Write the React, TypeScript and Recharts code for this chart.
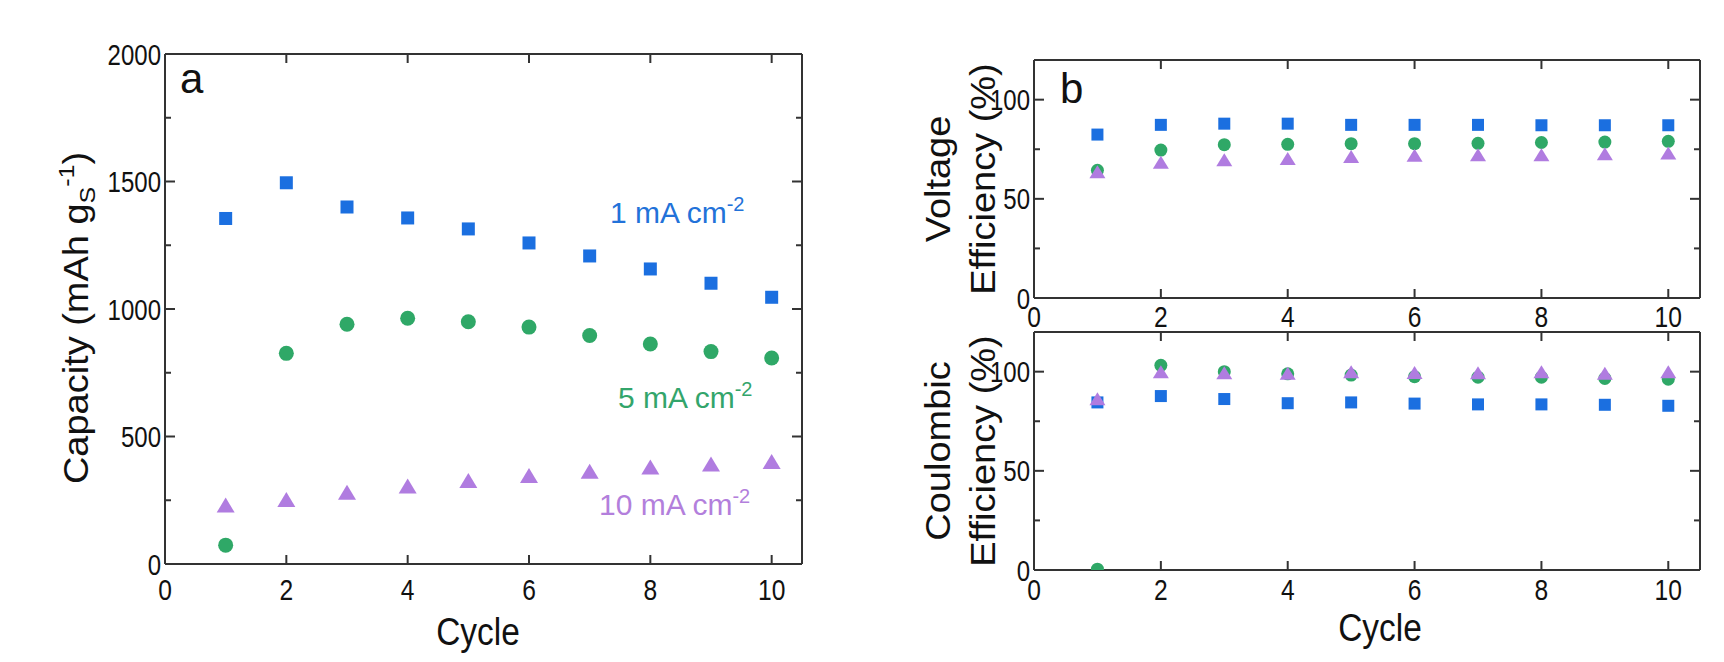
import React from "react";
import { ScatterChart, Scatter, XAxis, YAxis, ReferenceLine } from "recharts";

// cycle numbers
const cycles = [1, 2, 3, 4, 5, 6, 7, 8, 9, 10];

// (a) capacity, mAh g_S^-1
const cap1mA = [1355, 1495, 1400, 1357, 1314, 1259, 1208, 1157, 1101, 1046];
const cap5mA = [74, 826, 940, 964, 950, 929, 896, 863, 833, 808];
const cap10mA = [231, 253, 281, 306, 327, 347, 364, 380, 392, 402];

// (b) voltage efficiency, %
const ve1mA = [82.4, 87.3, 87.9, 87.9, 87.3, 87.3, 87.3, 87.1, 87.1, 87.1];
const ve5mA = [64.4, 74.6, 77.3, 77.5, 77.8, 77.8, 78.0, 78.4, 78.6, 79.0];
const ve10mA = [63.6, 68.4, 69.7, 70.3, 71.4, 72.0, 72.2, 72.2, 72.7, 73.1];

// (b) coulombic efficiency, %
const ce1mA = [84.5, 87.7, 86.2, 84.1, 84.5, 83.9, 83.5, 83.5, 83.3, 82.8];
const ce5mA = [0.4, 103.2, 100, 98.9, 98.3, 97.5, 97.2, 97.2, 96.6, 96.2];
const ce10mA = [86.4, 100, 99.4, 99.2, 100, 99.6, 99.4, 100, 99.2, 100];

const xTicks = [0, 2, 4, 6, 8, 10];
const capTicks = [0, 250, 500, 750, 1000, 1250, 1500, 1750, 2000];
const effTicks = [0, 25, 50, 75, 100];

const AXIS = "#333";
const TXT = "#111";
const FONT = "'Liberation Sans', Arial, sans-serif";
const BLUE = "#1b6fe0";
const GREEN = "#2fa867";
const PURPLE = "#b07ce0";

const toPts = (ys: number[]) => cycles.map((c, i) => ({ x: c, y: ys[i] }));

// bottom tick: inward mark at bottom and mirrored mark at top
function BottomTick(p: any) {
  const { x, y, payload, gap, plotH } = p;
  return (
    <g>
      <line x1={x} y1={y} x2={x} y2={y - 9} stroke={AXIS} strokeWidth={2} />
      <line x1={x} y1={y - plotH} x2={x} y2={y - plotH + 9} stroke={AXIS} strokeWidth={2} />
      <text
        transform={`translate(${x},${y + gap}) scale(0.82,1)`}
        textAnchor="middle"
        fontSize={30}
        fontFamily={FONT}
        fill={TXT}
      >
        {payload.value}
      </text>
    </g>
  );
}

// left tick: inward mark at left and mirrored mark at right
function LeftTick(p: any) {
  const { x, y, payload, major, plotW } = p;
  const isMajor = payload.value % major === 0;
  const len = isMajor ? 10 : 6;
  return (
    <g>
      <line x1={x} y1={y} x2={x + len} y2={y} stroke={AXIS} strokeWidth={2} />
      <line x1={x + plotW} y1={y} x2={x + plotW - len} y2={y} stroke={AXIS} strokeWidth={2} />
      {isMajor && (
        <text
          transform={`translate(${x - 4},${y + 10.5}) scale(0.8,1)`}
          textAnchor="end"
          fontSize={30}
          fontFamily={FONT}
          fill={TXT}
        >
          {payload.value}
        </text>
      )}
    </g>
  );
}

const square = (s: number) => (p: any) => (
  <rect x={p.cx - s / 2} y={p.cy - s / 2} width={s} height={s} fill={BLUE} />
);
const circle = (r: number) => (p: any) => <circle cx={p.cx} cy={p.cy} r={r} fill={GREEN} />;
const triangle = (w: number, h: number) => (p: any) => (
  <polygon
    points={`${p.cx - w / 2},${p.cy + h / 2} ${p.cx + w / 2},${p.cy + h / 2} ${p.cx},${p.cy - h / 2}`}
    fill={PURPLE}
  />
);

function Panel(props: {
  box: { left: number; top: number; width: number; height: number };
  margin: { top: number; right: number; bottom: number; left: number };
  yDomain: [number, number];
  yTicks: number[];
  yMajor: number;
  xGap: number;
  blue: number[];
  green: number[];
  purple: number[];
  big: boolean;
}) {
  const { box, margin, yDomain, yTicks, yMajor, xGap, blue, green, purple, big } = props;
  const line = { stroke: AXIS, strokeWidth: 2 };
  const plotW = box.width - margin.left - margin.right - 60;
  const plotH = box.height - margin.top - margin.bottom - 40;
  return (
    <div style={{ position: "absolute", left: box.left, top: box.top }}>
      <ScatterChart width={box.width} height={box.height} margin={margin}>
        <XAxis
          dataKey="x"
          type="number"
          domain={[0, 10.5]}
          ticks={xTicks}
          allowDataOverflow
          height={40}
          tickSize={0}
          tickMargin={0}
          tickLine={false}
          axisLine={line}
          tick={(p: any) => <BottomTick {...p} gap={xGap} plotH={plotH} />}
        />
        <YAxis
          dataKey="y"
          type="number"
          domain={yDomain}
          ticks={yTicks}
          allowDataOverflow
          width={60}
          tickSize={0}
          tickMargin={0}
          tickLine={false}
          axisLine={line}
          tick={(p: any) => <LeftTick {...p} major={yMajor} plotW={plotW} />}
        />
        <ReferenceLine y={yDomain[1]} stroke={AXIS} strokeWidth={2} />
        <ReferenceLine x={10.5} stroke={AXIS} strokeWidth={2} />
        <Scatter data={toPts(blue)} isAnimationActive={false} shape={square(big ? 13 : 12)} />
        <Scatter data={toPts(green)} isAnimationActive={false} shape={circle(big ? 7.5 : 6.5)} />
        <Scatter
          data={toPts(purple)}
          isAnimationActive={false}
          shape={big ? triangle(18, 15) : triangle(16, 13)}
        />
      </ScatterChart>
    </div>
  );
}

export default function App() {
  const tf = { fontFamily: FONT, fill: TXT };
  return (
    <div style={{ position: "absolute", left: 0, top: 0, width: 1724, height: 662, background: "#fff" }}>
      <Panel
        box={{ left: 0, top: 0, width: 840, height: 662 }}
        margin={{ top: 54, right: 38, bottom: 58, left: 105 }}
        yDomain={[0, 2000]}
        yTicks={capTicks}
        yMajor={500}
        xGap={36}
        blue={cap1mA}
        green={cap5mA}
        purple={cap10mA}
        big
      />
      <Panel
        box={{ left: 900, top: 0, width: 824, height: 340 }}
        margin={{ top: 60, right: 24, bottom: 2, left: 74 }}
        yDomain={[0, 120]}
        yTicks={effTicks}
        yMajor={50}
        xGap={29}
        blue={ve1mA}
        green={ve5mA}
        purple={ve10mA}
        big={false}
      />
      <Panel
        box={{ left: 900, top: 320, width: 824, height: 342 }}
        margin={{ top: 12, right: 24, bottom: 52, left: 74 }}
        yDomain={[0, 120]}
        yTicks={effTicks}
        yMajor={50}
        xGap={30}
        blue={ce1mA}
        green={ce5mA}
        purple={ce10mA}
        big={false}
      />
      <svg
        width={1724}
        height={662}
        style={{ position: "absolute", left: 0, top: 0, pointerEvents: "none" }}
      >
        {/* panel a */}
        <text x={180} y={93} fontSize={42} {...tf}>a</text>
        <text transform="translate(478,645) scale(0.88,1)" textAnchor="middle" fontSize={38} {...tf}>
          Cycle
        </text>
        <text transform="translate(88,318) rotate(-90) scale(1,0.9)" textAnchor="middle" fontSize={38} {...tf}>
          Capacity (mAh g
          <tspan fontSize={25} dy={8}>S</tspan>
          <tspan fontSize={25} dy={-24}>-1</tspan>
          <tspan fontSize={38} dy={16}>)</tspan>
        </text>
        <text x={610} y={223} fontSize={30} fontFamily={FONT} fill="#2272d9">
          1 mA cm<tspan fontSize={20} dy={-12}>-2</tspan>
        </text>
        <text x={618} y={408} fontSize={30} fontFamily={FONT} fill="#33a56b">
          5 mA cm<tspan fontSize={20} dy={-12}>-2</tspan>
        </text>
        <text x={599} y={515} fontSize={30} fontFamily={FONT} fill="#b37fdc">
          10 mA cm<tspan fontSize={20} dy={-12}>-2</tspan>
        </text>

        {/* panel b */}
        <text x={1060} y={103} fontSize={42} {...tf}>b</text>
        <text transform="translate(1380,641) scale(0.88,1)" textAnchor="middle" fontSize={38} {...tf}>
          Cycle
        </text>
        <text transform="translate(950,179) rotate(-90) scale(1,0.9)" textAnchor="middle" fontSize={38} {...tf}>
          Voltage
        </text>
        <text transform="translate(995,179) rotate(-90) scale(1,0.9)" textAnchor="middle" fontSize={38} {...tf}>
          Efficiency (%)
        </text>
        <text transform="translate(950,451) rotate(-90) scale(1,0.9)" textAnchor="middle" fontSize={38} {...tf}>
          Coulombic
        </text>
        <text transform="translate(995,451) rotate(-90) scale(1,0.9)" textAnchor="middle" fontSize={38} {...tf}>
          Efficiency (%)
        </text>
      </svg>
    </div>
  );
}
